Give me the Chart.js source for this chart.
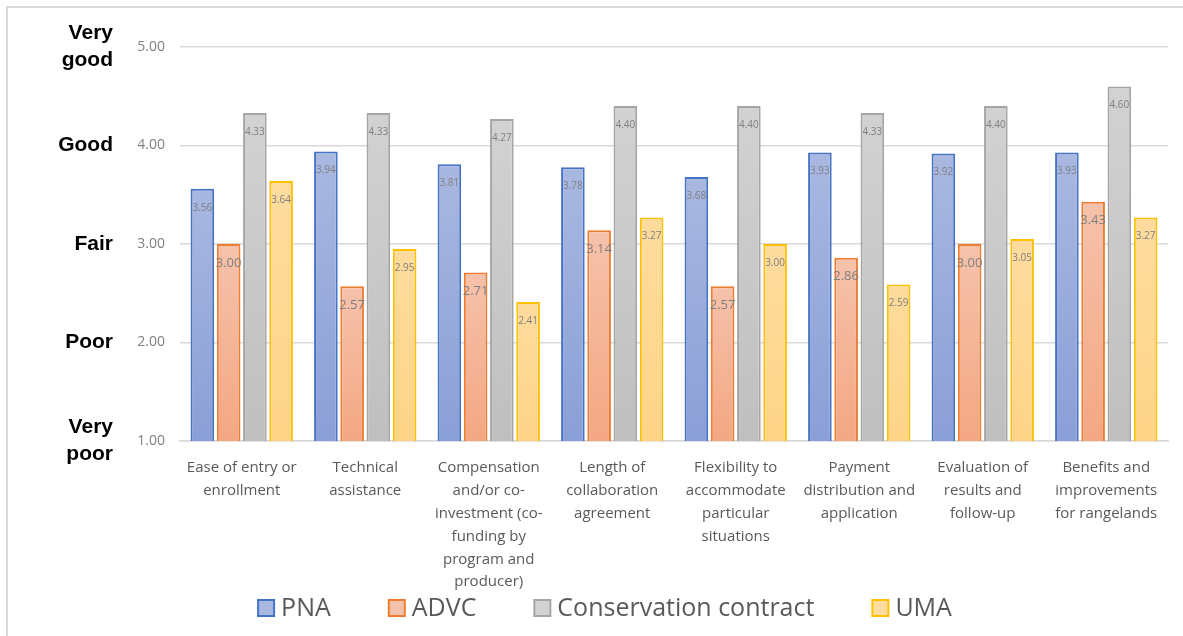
<!DOCTYPE html>
<html>
<head>
<meta charset="utf-8">
<script src="https://cdn.jsdelivr.net/npm/chart.js@4"></script>
<style>
  html, body { margin: 0; padding: 0; background: #fff; }
  #wrap { width: 1183px; height: 636px; }
</style>
</head>
<body>
<div id="wrap"><canvas id="ratings_chart" width="1183" height="636"></canvas></div>
<script>
const categories = [
    ['Ease of entry or', 'enrollment'],
    ['Technical', 'assistance'],
    ['Compensation', 'and/or co-', 'investment (co-', 'funding by', 'program and', 'producer)'],
    ['Length of', 'collaboration', 'agreement'],
    ['Flexibility to', 'accommodate', 'particular', 'situations'],
    ['Payment', 'distribution and', 'application'],
    ['Evaluation of', 'results and', 'follow-up'],
    ['Benefits and', 'improvements', 'for rangelands']
];

const seriesNames = ['PNA', 'ADVC', 'Conservation contract', 'UMA'];

const pnaValues = [3.56, 3.94, 3.81, 3.78, 3.68, 3.93, 3.92, 3.93];
const advcValues = [3.00, 2.57, 2.71, 3.14, 2.57, 2.86, 3.00, 3.43];
const contractValues = [4.33, 4.33, 4.27, 4.40, 4.40, 4.33, 4.40, 4.60];
const umaValues = [3.64, 2.95, 2.41, 3.27, 3.00, 2.59, 3.05, 3.27];

const ratingLabels = [['Very', 'poor'], 'Poor', 'Fair', 'Good', ['Very', 'good']];

// fill colours: [top, bottom], border
const palette = [
    { top: '#a9b8e1', bottom: '#8a9fd7', border: '#4472c4' },
    { top: '#f6c2ab', bottom: '#f4a783', border: '#ed7d31' },
    { top: '#d2d2d2', bottom: '#bfbfbf', border: '#a5a5a5' },
    { top: '#fedc9e', bottom: '#fed487', border: '#ffc000' }
];

const barGradient = (i) => (ctx) => {
    const chart = ctx.chart;
    const y = chart.scales && chart.scales.y;
    if (!y || ctx.parsed === undefined || !chart.chartArea) return palette[i].top;
    const top = y.getPixelForValue(ctx.parsed.y);
    const bottom = y.getPixelForValue(y.min);
    if (!isFinite(top) || !isFinite(bottom) || top === bottom) return palette[i].top;
    const g = chart.ctx.createLinearGradient(0, top, 0, bottom);
    g.addColorStop(0, palette[i].top);
    g.addColorStop(1, palette[i].bottom);
    return g;
};

const makeDataset = (label, data, i) => ({
    label: label,
    data: data,
    backgroundColor: barGradient(i),
    borderColor: palette[i].border,
    borderWidth: 2,
    borderSkipped: false,
    categoryPercentage: 0.85,
    barPercentage: 0.9
});

// value labels just below the top of each bar
const valueLabels = {
    id: 'valueLabels',
    afterDatasetsDraw(chart) {
        const ctx = chart.ctx;
        ctx.save();
        ctx.textAlign = 'center';
        ctx.textBaseline = 'middle';
        ctx.fillStyle = '#7f7f7f';
        chart.data.datasets.forEach((ds, di) => {
            const meta = chart.getDatasetMeta(di);
            ctx.font = di === 1 ? '13px "Open Sans"' : '10px "Open Sans"';
            meta.data.forEach((bar, j) => {
                ctx.fillText(ds.data[j].toFixed(2), bar.x, bar.y + 19);
            });
        });
        ctx.restore();
    }
};

// outer frame (top and left only) + legend at the bottom
const frameAndLegend = {
    id: 'frameAndLegend',
    beforeDraw(chart) {
        const ctx = chart.ctx;
        ctx.save();
        ctx.strokeStyle = '#d9d9d9';
        ctx.lineWidth = 2;
        ctx.beginPath();
        ctx.moveTo(7, 636);
        ctx.lineTo(7, 7);
        ctx.lineTo(1183, 7);
        ctx.stroke();
        ctx.restore();
    },
    afterDraw(chart) {
        const ctx = chart.ctx;
        ctx.save();
        ctx.font = '25px "Open Sans"';
        ctx.textBaseline = 'middle';
        const box = 16, gapText = 7, gapItem = 58;
        const widths = seriesNames.map(n => ctx.measureText(n).width);
        const total = widths.reduce((a, w) => a + box + gapText + w, 0) + gapItem * (seriesNames.length - 1);
        let x = 605 - total / 2;
        const yc = 608;
        seriesNames.forEach((name, i) => {
            ctx.fillStyle = palette[i].top;
            ctx.fillRect(x, yc - box / 2, box, box);
            ctx.strokeStyle = palette[i].border;
            ctx.lineWidth = 2;
            ctx.strokeRect(x, yc - box / 2, box, box);
            ctx.fillStyle = '#595959';
            ctx.fillText(name, x + box + gapText, yc + 1);
            x += box + gapText + widths[i] + gapItem;
        });
        ctx.restore();
    }
};

const chartOptions = {
    responsive: false,
    animation: false,
    layout: {
        padding: { top: 47, right: 15, bottom: 40, left: 0 }
    },
    plugins: {
        legend: { display: false },
        tooltip: { enabled: false }
    },
    scales: {
        x: {
            grid: { display: false },
            border: { display: true, color: '#d9d9d9', width: 1.5 },
            ticks: {
                color: '#595959',
                font: { family: '"Open Sans"', size: 15, lineHeight: 1.53 },
                maxRotation: 0,
                autoSkip: false,
                padding: 7
            },
            afterFit: (scale) => { scale.height = 155; }
        },
        y: {
            min: 1,
            max: 5,
            weight: 0,
            grid: { color: '#d9d9d9', lineWidth: 1.5, drawTicks: false },
            border: { display: false },
            ticks: {
                stepSize: 1,
                color: '#808080',
                padding: 15,
                font: { family: '"Open Sans"', size: 14 },
                callback: (v) => Number(v).toFixed(2)
            },
            afterFit: (scale) => { scale.width = 62; }
        },
        rating: {
            type: 'linear',
            position: 'left',
            min: 1,
            max: 5,
            weight: 1,
            grid: { display: false, drawTicks: false },
            border: { display: false },
            ticks: {
                stepSize: 1,
                color: '#000000',
                padding: 5,
                font: { family: '"Liberation Sans"', size: 21, weight: 'bold', lineHeight: 1.3 },
                callback: (v) => ratingLabels[Math.round(v) - 1]
            },
            afterFit: (scale) => { scale.width = 118; }
        }
    }
};

const ratingsChart = (id) => {
    const ctx = document.getElementById(id);
    new Chart(ctx, {
        type: 'bar',
        data: {
            labels: categories,
            datasets: [
                makeDataset(seriesNames[0], pnaValues, 0),
                makeDataset(seriesNames[1], advcValues, 1),
                makeDataset(seriesNames[2], contractValues, 2),
                makeDataset(seriesNames[3], umaValues, 3)
            ]
        },
        options: chartOptions,
        plugins: [valueLabels, frameAndLegend]
    });
};

ratingsChart('ratings_chart');
</script>
</body>
</html>
